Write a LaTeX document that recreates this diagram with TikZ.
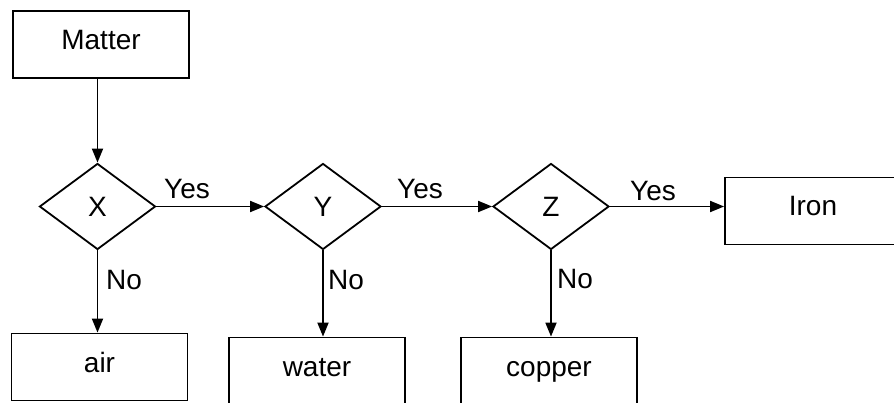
\documentclass[tikz,border=0pt]{standalone}
\usepackage{fontspec}
\setmainfont{Liberation Sans}
\usetikzlibrary{shapes.geometric,arrows.meta}
\begin{document}
\begin{tikzpicture}[x=1pt,y=-1pt,
  txt/.style={font=\fontsize{28}{30}\selectfont},
  box/.style={draw,line width=1.8pt,minimum width=176pt,minimum height=67pt,inner sep=0pt,txt,text height=19pt,text depth=9pt},
  dec/.style={draw,diamond,line width=1.8pt,minimum width=116pt,minimum height=86pt,inner sep=0pt,txt},
  conn/.style={line width=1.8pt,-{Triangle[length=14pt,width=11pt]}},
  lbl/.style={txt,inner sep=0pt}]
\useasboundingbox (0,0) rectangle (894,403);
\clip (0,0) rectangle (894,403);
\node[box] (matter) at (101,44.5) {Matter};
\node[dec] (x) at (97.5,206.5) {X};
\node[dec] (y) at (323,206.5) {Y};
\node[dec] (z) at (551,206.5) {Z};
\node[box] (iron) at (813,211) {Iron};
\node[box] (air) at (99.5,367) {air};
\node[box] (water) at (317,371) {water};
\node[box] (copper) at (549,371) {copper};
\draw[conn] (matter.south -| x.north) -- (x.north);
\draw[conn] (x.east) -- (y.west);
\draw[conn] (y.east) -- (z.west);
\draw[conn] (z.east) -- (z.east -| iron.west);
\draw[conn] (x.south) -- (x.south |- air.north);
\draw[conn] (y.south) -- (y.south |- water.north);
\draw[conn] (z.south) -- (z.south |- copper.north);
\node[lbl] (yes1) at (187,189) {Yes};
\node[lbl] (yes2) at (420,189) {Yes};
\node[lbl] (yes3) at (653,191) {Yes};
\node[lbl] (no1) at (124,280) {No};
\node[lbl] (no2) at (346,280) {No};
\node[lbl] (no3) at (575,279) {No};
\end{tikzpicture}
\end{document}
